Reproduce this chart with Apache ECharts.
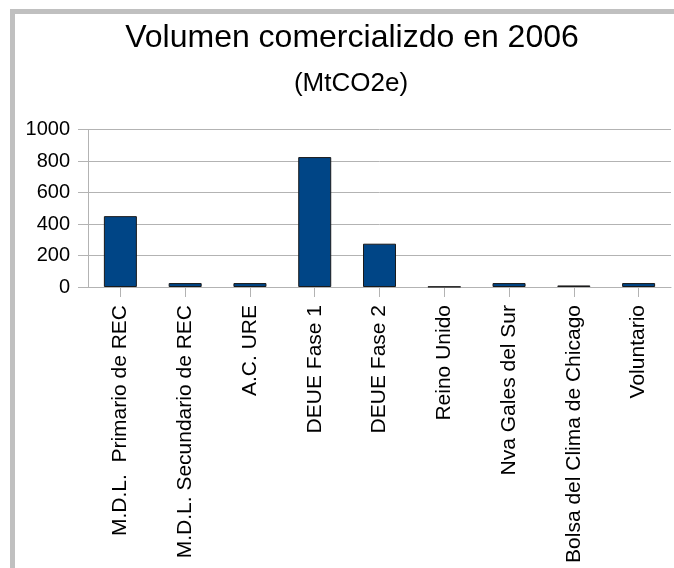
<!DOCTYPE html>
<html>
<head>
<meta charset="utf-8">
<script src="https://cdn.jsdelivr.net/npm/echarts@6/dist/echarts.min.js"></script>
<style>
  html, body { margin: 0; padding: 0; background: #fff; }
  #chart { width: 674px; height: 568px; }
</style>
</head>
<body>
<div id="chart"></div>
<script>
// categorias y valores (MtCO2e)
var categories = [
  "M.D.L.  Primario de REC",
  "M.D.L. Secundario de REC",
  "A.C. URE",
  "DEUE Fase 1",
  "DEUE Fase 2",
  "Reino Unido",
  "Nva Gales del Sur",
  "Bolsa del Clima de Chicago",
  "Voluntario"
];
var volumen = [450, 25, 25, 825, 275, 2, 25, 10, 25];
var yTicks = { min: 0, max: 1000, interval: 200 };

var chart = echarts.init(document.getElementById("chart"));
var font = "Liberation Sans";

chart.setOption({
  backgroundColor: "#ffffff",
  animation: false,
  graphic: [
    {
      // marco gris (recortado a la derecha y abajo)
      type: "rect",
      shape: { x: 12.5, y: 11.5, width: 720, height: 620 },
      style: { fill: "none", stroke: "#c0c0c0", lineWidth: 5 },
      silent: true
    },
    {
      type: "text",
      style: {
        text: "Volumen comercializdo en 2006",
        x: 352, y: 22,
        align: "center", verticalAlign: "top",
        font: "32px 'Liberation Sans'",
        fill: "#000"
      }
    },
    {
      type: "text",
      style: {
        text: "(MtCO2e)",
        x: 351, y: 71,
        align: "center", verticalAlign: "top",
        font: "26px 'Liberation Sans'",
        fill: "#000"
      }
    }
  ],
  grid: {
    left: 88,
    right: 3,
    top: 129.5,
    bottom: 281,
    containLabel: false
  },
  xAxis: {
    type: "category",
    data: categories,
    axisLine: { show: true, lineStyle: { color: "#b3b3b3", width: 1 } },
    axisTick: { show: true, alignWithLabel: true, length: 10, lineStyle: { color: "#b3b3b3" } },
    axisLabel: {
      interval: 0,
      rotate: 90,
      margin: 18,
      fontFamily: font,
      fontSize: 21,
      color: "#000"
    },
    splitLine: { show: false }
  },
  yAxis: {
    type: "value",
    min: yTicks.min,
    max: yTicks.max,
    interval: yTicks.interval,
    axisLine: { show: true, lineStyle: { color: "#b3b3b3", width: 1 } },
    axisTick: { show: true, length: 10, lineStyle: { color: "#b3b3b3" } },
    axisLabel: {
      margin: 18,
      fontFamily: font,
      fontSize: 20,
      color: "#000",
      formatter: function (v) { return String(v); }
    },
    splitLine: { show: true, lineStyle: { color: "#b3b3b3", width: 1 } }
  },
  series: [
    {
      name: "Volumen",
      type: "bar",
      data: volumen,
      barWidth: 33,
      itemStyle: {
        color: "#004586",
        borderColor: "#1a1a1a",
        borderWidth: 1
      }
    }
  ]
});
</script>
</body>
</html>
